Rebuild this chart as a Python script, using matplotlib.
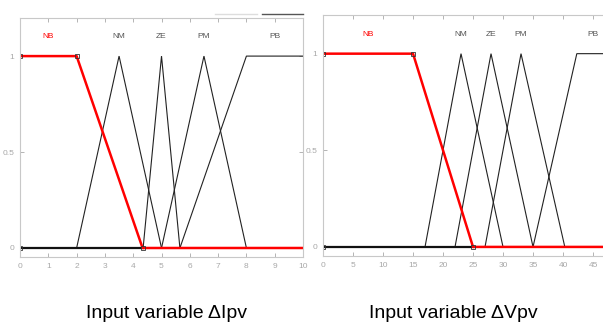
import numpy as np
import matplotlib.pyplot as plt
from matplotlib.lines import Line2D
from matplotlib import font_manager

# membership functions for delta I (range 0..10)
i_names = ["NB", "NM", "ZE", "PM", "PB"]
i_params = [
    [0, 0, 2, 4.33],      # trapezoid
    [2, 3.5, 5],          # triangle
    [4.35, 5, 5.65],
    [5, 6.5, 8],
    [5.65, 8, 10, 10],
]
i_label_x = [1, 3.5, 5, 6.5, 9]
i_range = (0, 10)
i_ticks = list(range(0, 11))

# membership functions for delta V (range 0..47.7)
v_names = ["NB", "NM", "ZE", "PM", "PB"]
v_params = [
    [0, 0, 15, 25],
    [17, 23, 30],
    [22, 28, 35],
    [27, 33, 40.3],
    [35, 42.3, 47.7, 47.7],
]
v_label_x = [7.5, 23, 28, 33, 45]
v_range = (0, 47.7)
v_ticks = list(range(0, 50, 5))

titles = ["Input variable \u0394Ipv", "Input variable \u0394Vpv"]

names = {f.name for f in font_manager.fontManager.ttflist}
narrow = "Liberation Sans Narrow" if "Liberation Sans Narrow" in names else "Liberation Sans"
print(narrow)


def mf_points(p, lo, hi):
    # corner points of a triangle/trapezoid, padded with zeros to the range ends
    if len(p) == 3:
        xs = [p[0], p[1], p[2]]
        ys = [0, 1, 0]
    else:
        xs = [p[0], p[1], p[2], p[3]]
        ys = [0, 1, 1, 0]
    if xs[-1] >= hi:
        ys[-1] = 1
    xs = [lo] + xs + [hi]
    ys = [0 if xs[1] > lo else ys[0]] + ys + [ys[-1] if xs[-2] >= hi else 0]
    return xs, ys


def draw_panel(ax, params, names, label_x, xr, ticks):
    gray = "#a8a8a8"
    for k, p in enumerate(params):
        if k == 0:
            continue
        xs, ys = mf_points(p, *xr)
        ax.plot(xs, ys, color="#222222", lw=0.8, solid_joinstyle="miter")
    p = params[0]
    # overlapping zero segments left of the red curve
    ax.plot([xr[0], p[3]], [0, 0], color="#111111", lw=1.6)
    # selected function drawn in red with vertex markers
    ax.plot([xr[0], p[1], p[2], p[3], xr[1]], [1, 1, 1, 0, 0],
            color="red", lw=1.8)
    ax.plot([p[0], p[0], p[2], p[3]], [0, 1, 1, 0], ls="none", marker="s",
            ms=3, mfc="none", mec="#333333", mew=0.6)
    for k, (nm, lx) in enumerate(zip(names, label_x)):
        ax.text(lx, 1.1, nm, ha="center", va="center", fontsize=6,
                color="red" if k == 0 else "#555555", family=narrow)
    ax.set_xlim(*xr)
    ax.set_ylim(-0.047, 1.2)
    ax.set_xticks(ticks)
    ax.set_yticks([0, 0.5, 1])
    ax.set_yticklabels(["0", "0.5", "1"])
    ax.tick_params(direction="in", length=3, width=0.6, color=gray,
                   labelsize=6, labelcolor=gray, top=True, right=True, pad=4)
    for lbl in ax.get_xticklabels() + ax.get_yticklabels():
        lbl.set_family(narrow)
    for s in ax.spines.values():
        s.set_color("#c8c8c8")
        s.set_linewidth(0.8)


fig = plt.figure(figsize=(6.03, 3.25), dpi=100)
ax1 = fig.add_axes([0.0332, 0.2092, 0.4693, 0.7363])
ax2 = fig.add_axes([0.5357, 0.2123, 0.4746, 0.7415])

draw_panel(ax1, i_params, i_names, i_label_x, i_range, i_ticks)
draw_panel(ax2, v_params, v_names, v_label_x, v_range, v_ticks)

# two short bars above the first panel
fig.add_artist(Line2D([215 / 603, 257 / 603], [1 - 14 / 325] * 2,
                      color="#dddddd", lw=1.0))
fig.add_artist(Line2D([262 / 603, 303 / 603], [1 - 14 / 325] * 2,
                      color="#555555", lw=1.0))

fig.text(166 / 603, 1 - 313 / 325, titles[0], ha="center", va="center",
         fontsize=14, family=narrow)
fig.text(453 / 603, 1 - 313 / 325, titles[1], ha="center", va="center",
         fontsize=14, family=narrow)

fig.savefig("out.png", dpi=100)
